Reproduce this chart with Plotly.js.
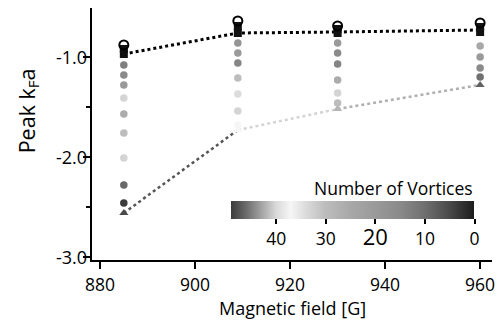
<!DOCTYPE html>
<html>
<head>
<meta charset="utf-8">
<script src="https://cdn.plot.ly/plotly-3.0.1.min.js"></script>
<style>html,body{margin:0;padding:0;background:#fff;}#chart{width:498px;height:323px;}</style>
</head>
<body>
<div id="chart"></div>
<script>
// ---- data ----
const fields = [885, 909, 930, 960];
const openCircleY = [-0.88, -0.64, -0.69, -0.66];
const squaresTopY = [-0.92, -0.69, -0.72, -0.70];
const squaresBottomY = [-0.97, -0.76, -0.76, -0.75];
const upperLineY = [-0.97, -0.76, -0.75, -0.73];
const triangleY = [-2.56, -1.73, -1.52, -1.28];
const triangleN = [48, 37, 28, 8];
const dots885Y = [-1.08, -1.18, -1.28, -1.41, -1.57, -1.76, -2.01, -2.28, -2.46];
const dots885N = [13, 15, 20, 33, 26, 30, 33, 46, 49];
const dots909Y = [-0.86, -0.96, -1.06, -1.21, -1.37, -1.54, -1.68];
const dots909N = [18, 20, 14, 30, 34, 33, 37];
const dots930Y = [-0.86, -0.96, -1.07, -1.23, -1.36, -1.46];
const dots930N = [20, 15, 14, 26, 33, 30];
const dots960Y = [-0.89, -1.00, -1.11, -1.20];
const dots960N = [25, 20, 15, 10];
const colorbarTicks = [40, 30, 20, 10, 0];
const colorbarLabels = ['40', '30', '20', '10', '0'];
const xTicks = [880, 900, 920, 940, 960];
const yTicks = [-1, -2, -3];
const yTickLabels = ['-1.0', '-2.0', '-3.0'];

// ---- styling ----
const NMAX = 49;
const lowerSegColors = ['#555555', '#d4d4d4', '#b0b0b0'];
const scale = [
  [0.000, '#3c3c3c'], [0.061, '#6a6a6a'], [0.122, '#a0a0a0'], [0.184, '#d8d8d8'],
  [0.245, '#f6f6f6'], [0.306, '#dcdcdc'], [0.388, '#bdbdbd'], [0.490, '#a8a8a8'],
  [0.592, '#9a9a9a'], [0.694, '#8a8a8a'], [0.796, '#707070'], [0.898, '#4a4a4a'],
  [1.000, '#1c1c1c']
];
const FONT = 'Open Sans, Noto Sans, sans-serif';

const dotGroups = [
  [fields[0], dots885Y, dots885N],
  [fields[1], dots909Y, dots909N],
  [fields[2], dots930Y, dots930N],
  [fields[3], dots960Y, dots960N]
];
const dx = [], dy = [], dc = [];
dotGroups.forEach(([f, ys, ns]) => {
  ys.forEach((y, i) => { dx.push(f); dy.push(y); dc.push(-ns[i]); });
});

const traces = [];
// lower line segments
for (let i = 0; i < fields.length - 1; i++) {
  traces.push({
    x: fields.slice(i, i + 2), y: triangleY.slice(i, i + 2), mode: 'lines', type: 'scatter',
    line: {color: lowerSegColors[i], width: 2.5, dash: '3px,3px'}, hoverinfo: 'skip', showlegend: false
  });
}
// upper line
traces.push({
  x: fields, y: upperLineY, mode: 'lines', type: 'scatter',
  line: {color: '#000', width: 3, dash: '3px,3px'}, showlegend: false
});
// dots with colorbar
traces.push({
  x: dx, y: dy, mode: 'markers', type: 'scatter', showlegend: false,
  marker: {
    size: 7.5, color: dc, cmin: -NMAX, cmax: 0, colorscale: scale, line: {width: 0},
    colorbar: {
      orientation: 'h', thickness: 18, thicknessmode: 'pixels', len: 243, lenmode: 'pixels',
      xpad: 0, ypad: 0,
      x: 0.6525, xanchor: 'center', y: 0.235, yanchor: 'top',
      tickvals: colorbarTicks.map(v => -v),
      ticktext: colorbarLabels.map(t => t === '20' ? '<span style="font-size:22px">20</span>' : t),
      ticks: 'outside', ticklen: 5, tickwidth: 2, tickcolor: '#000',
      outlinewidth: 0, tickfont: {size: 17.5, family: FONT, color: '#000'}
    }
  }
});
// triangles
traces.push({
  x: fields, y: triangleY, mode: 'markers', type: 'scatter', showlegend: false,
  marker: {symbol: 'triangle-up', size: 8, color: triangleN.map(n => -n), cmin: -NMAX, cmax: 0, colorscale: scale, showscale: false}
});
// squares
traces.push({
  x: fields.concat(fields), y: squaresTopY.concat(squaresBottomY), mode: 'markers', type: 'scatter', showlegend: false,
  marker: {symbol: 'square', size: 8, color: '#111'}
});
// open circles
traces.push({
  x: fields, y: openCircleY, mode: 'markers', type: 'scatter', showlegend: false,
  marker: {symbol: 'circle-open', size: 9, color: '#000', line: {width: 2, color: '#000'}}
});

const annotations = yTicks.map((v, i) => ({
  text: yTickLabels[i], xref: 'paper', yref: 'y', x: -0.0075, y: v,
  showarrow: false, font: {size: 18, family: FONT}, xanchor: 'right', yanchor: 'middle'
}));
annotations.push(
  {text: 'Peak k<sub>F</sub>a', xref: 'paper', yref: 'paper', x: -0.16, y: 0.59, textangle: -90,
   showarrow: false, font: {size: 21.5, family: FONT}, xanchor: 'center', yanchor: 'middle'},
  {text: 'Magnetic field [G]', xref: 'paper', yref: 'paper', x: 0.5, y: -0.192,
   showarrow: false, font: {size: 18, family: FONT}, xanchor: 'center', yanchor: 'middle', borderpad: 0},
  {text: 'Number of Vortices', xref: 'paper', yref: 'paper', x: 0.9575, y: 0.285,
   showarrow: false, font: {size: 17.5, family: FONT}, xanchor: 'right', yanchor: 'middle'}
);

const layout = {
  width: 498, height: 323,
  margin: {l: 92, r: 6, t: 8, b: 63},
  paper_bgcolor: '#fff', plot_bgcolor: '#fff',
  font: {family: FONT, color: '#000'},
  showlegend: false,
  xaxis: {
    range: [878.3, 962.5], tickvals: xTicks, ticks: 'outside', ticklen: 7, tickwidth: 2, tickcolor: '#000',
    showline: true, linewidth: 2, linecolor: '#000', showgrid: false, zeroline: false,
    tickfont: {size: 17.5, family: FONT}, ticklabelstandoff: 1
  },
  yaxis: {
    range: [-3.03, -0.51], tickvals: yTicks, showticklabels: false, ticks: 'outside', ticklen: 7, tickwidth: 2, tickcolor: '#000',
    showline: true, linewidth: 2, linecolor: '#000', showgrid: false, zeroline: false,
    minor: {tickvals: [-1.5, -2.5], ticks: 'outside', ticklen: 4, tickwidth: 2, tickcolor: '#000', showgrid: false}
  },
  annotations: annotations
};

Plotly.newPlot('chart', traces, layout, {displayModeBar: false, staticPlot: true});
</script>
</body>
</html>
